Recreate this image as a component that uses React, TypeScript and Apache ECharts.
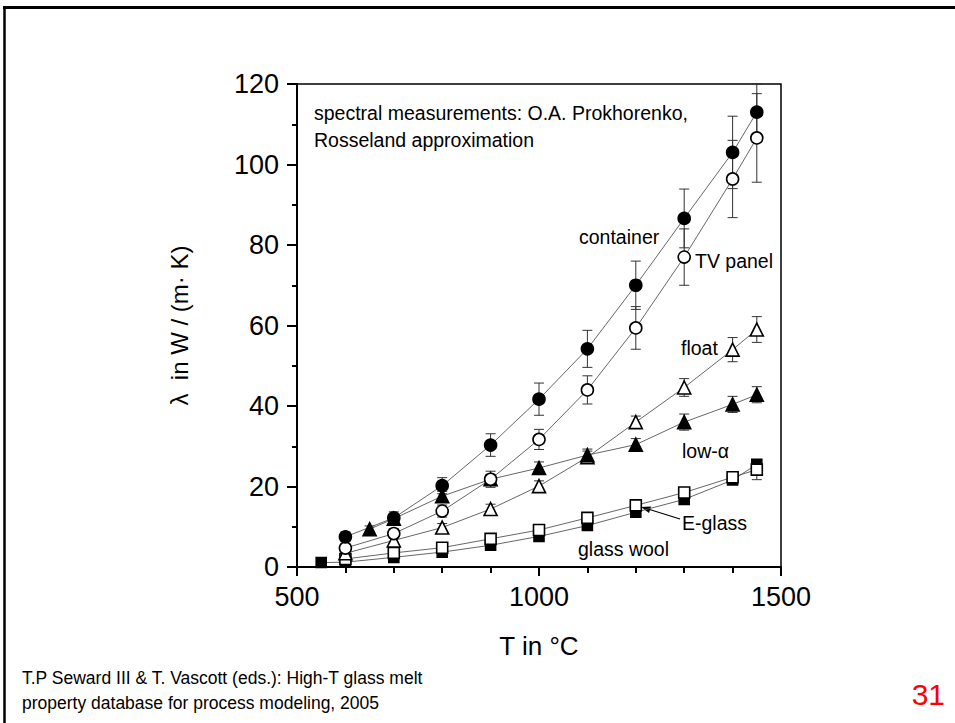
import React, { useEffect, useRef } from "react";
import * as echarts from "echarts";

// ---- data ----
const xTickLabels = [500, 1000, 1500];
const yTickLabels = [0, 20, 40, 60, 80, 100, 120];

const containerT = [600, 700, 800, 900, 1000, 1100, 1200, 1300, 1400, 1450];
const containerV = [7.5, 12.2, 20.2, 30.3, 41.7, 54.2, 70, 86.6, 103, 113];
const containerErr = [1.2, 1.5, 2, 2.8, 4, 4.6, 6, 7.3, 9, 7];

const tvPanelT = [600, 700, 800, 900, 1000, 1100, 1200, 1300, 1400, 1450];
const tvPanelV = [4.7, 8.3, 13.9, 21.8, 31.7, 44, 59.4, 77, 96.4, 106.6];
const tvPanelErr = [1, 1.2, 1.5, 2, 2.5, 3.5, 5.3, 7, 9.6, 11];

const floatT = [600, 700, 800, 900, 1000, 1100, 1200, 1300, 1400, 1450];
const floatV = [3.4, 6.6, 9.8, 14.4, 20.1, 27.3, 36, 44.6, 54, 59];
const floatErr = [0.8, 1, 1, 1.2, 1.3, 1.5, 1.5, 2.2, 3, 3.2];

const lowAlphaT = [650, 700, 800, 900, 1000, 1100, 1200, 1300, 1400, 1450];
const lowAlphaV = [9.4, 12, 17.6, 21.8, 24.6, 27.8, 30.4, 36, 40.4, 42.8];
const lowAlphaErr = [0.8, 1, 1.2, 1.2, 1.5, 1.5, 1.5, 2, 2, 2];

const eGlassT = [600, 700, 800, 900, 1000, 1100, 1200, 1300, 1400, 1450];
const eGlassV = [2, 3.5, 4.8, 7, 9.2, 12.2, 15.3, 18.5, 22.3, 24.2];
const eGlassErr = [0.6, 0.7, 0.8, 0.8, 0.8, 0.8, 1, 1, 1.2, 2.5];

const glassWoolT = [550, 600, 700, 800, 900, 1000, 1100, 1200, 1300, 1400, 1450];
const glassWoolV = [1.1, 1.2, 2.4, 3.7, 5.4, 7.6, 10.3, 13.6, 16.8, 21.6, 25.5];

const SANS = "'Liberation Sans', Arial, sans-serif";

function pairs(t: number[], v: number[]) {
  return t.map((x, i) => [x, v[i]]);
}
function errs(t: number[], v: number[], e: number[]) {
  return t.map((x, i) => [x, v[i] - e[i], v[i] + e[i]]);
}

function lineSeries(name: string, t: number[], v: number[], symbol: string, size: number, fill: string) {
  return {
    name,
    type: "line",
    data: pairs(t, v),
    symbol,
    symbolSize: size,
    showSymbol: true,
    z: 4,
    lineStyle: { color: "#555", width: 0.9 },
    itemStyle: { color: fill, borderColor: "#000", borderWidth: 1.6 },
  };
}

function errSeries(name: string, t: number[], v: number[], e: number[]) {
  return {
    name: name + " err",
    type: "custom",
    z: 2,
    clip: false,
    data: errs(t, v, e),
    encode: { x: 0, y: [1, 2] },
    renderItem: (_p: any, api: any) => {
      const x = api.value(0);
      const p1 = api.coord([x, api.value(1)]);
      const p2 = api.coord([x, api.value(2)]);
      const w = 5;
      const style = { stroke: "#333", lineWidth: 1 };
      return {
        type: "group",
        children: [
          { type: "line", shape: { x1: p1[0], y1: p1[1], x2: p2[0], y2: p2[1] }, style },
          { type: "line", shape: { x1: p1[0] - w, y1: p1[1], x2: p1[0] + w, y2: p1[1] }, style },
          { type: "line", shape: { x1: p2[0] - w, y1: p2[1], x2: p2[0] + w, y2: p2[1] }, style },
        ],
      };
    },
  };
}

function label(text: string, x: number, y: number, size = 19.5) {
  return {
    type: "text",
    x,
    y,
    style: { text, fill: "#000", font: `${size}px ${SANS}`, textVerticalAlign: "middle", textAlign: "left" },
  };
}

export default function App() {
  const ref = useRef<HTMLDivElement>(null);
  useEffect(() => {
    document.body.style.margin = "0";
    const chart = echarts.init(ref.current!, null, { renderer: "svg" });
    const option: any = {
      animation: false,
      backgroundColor: "#fff",
      grid: {
        left: 297,
        right: 174,
        top: 84,
        bottom: 156,
        show: true,
        borderColor: "#000",
        borderWidth: 1.5,
        backgroundColor: "transparent",
      },
      xAxis: {
        type: "value",
        min: 500,
        max: 1500,
        interval: 500,
        name: "T in °C",
        nameLocation: "middle",
        nameGap: 66,
        nameTextStyle: { color: "#000", fontSize: 26, fontFamily: SANS },
        axisLine: { onZero: false, lineStyle: { color: "#000", width: 2 } },
        axisTick: { show: true, inside: false, length: 9, lineStyle: { color: "#000", width: 2 } },
        minorTick: { show: true, splitNumber: 5, length: 6, lineStyle: { color: "#000", width: 2 } },
        splitLine: { show: false },
        axisLabel: {
          color: "#000",
          fontSize: 27,
          fontFamily: SANS,
          margin: 16,
          formatter: (v: number) => (xTickLabels.includes(v) ? String(v) : ""),
        },
      },
      yAxis: {
        type: "value",
        min: 0,
        max: 120,
        interval: 20,
        name: "λ  in W / (m· K)",
        nameLocation: "middle",
        nameGap: 106,
        nameTextStyle: { color: "#000", fontSize: 24, fontFamily: SANS },
        axisLine: { onZero: false, lineStyle: { color: "#000", width: 2 } },
        axisTick: { show: true, inside: false, length: 10, lineStyle: { color: "#000", width: 2 } },
        minorTick: { show: true, splitNumber: 2, length: 5, lineStyle: { color: "#000", width: 2 } },
        splitLine: { show: false },
        axisLabel: {
          color: "#000",
          fontSize: 27,
          fontFamily: SANS,
          margin: 18,
          formatter: (v: number) => (yTickLabels.includes(v) ? String(v) : ""),
        },
      },
      series: [
        errSeries("container", containerT, containerV, containerErr),
        errSeries("TV panel", tvPanelT, tvPanelV, tvPanelErr),
        errSeries("float", floatT, floatV, floatErr),
        errSeries("low-α", lowAlphaT, lowAlphaV, lowAlphaErr),
        errSeries("E-glass", eGlassT, eGlassV, eGlassErr),
        lineSeries("glass wool", glassWoolT, glassWoolV, "rect", 10, "#000"),
        lineSeries("E-glass", eGlassT, eGlassV, "rect", 11, "#fff"),
        lineSeries("float", floatT, floatV, "triangle", 13, "#fff"),
        lineSeries("low-α", lowAlphaT, lowAlphaV, "triangle", 13, "#000"),
        lineSeries("TV panel", tvPanelT, tvPanelV, "circle", 12, "#fff"),
        lineSeries("container", containerT, containerV, "circle", 12, "#000"),
      ],
      graphic: [
        // slide frame
        { type: "line", shape: { x1: 3, y1: 7.5, x2: 955, y2: 7.5 }, style: { stroke: "#000", lineWidth: 3 } },
        { type: "line", shape: { x1: 4.5, y1: 6, x2: 4.5, y2: 723 }, style: { stroke: "#000", lineWidth: 2.5 } },
        label("spectral measurements: O.A. Prokhorenko,", 314, 113),
        label("Rosseland approximation", 314, 140),
        label("container", 579, 237),
        label("TV panel", 695, 261),
        label("float", 681, 348),
        label("low-α", 682, 451),
        label("E-glass", 682, 523),
        label("glass wool", 578, 549),
        { type: "line", shape: { x1: 680, y1: 519, x2: 648, y2: 509 }, style: { stroke: "#000", lineWidth: 1.2 } },
        { type: "polygon", shape: { points: [[641, 507], [651, 506.5], [649, 513]] }, style: { fill: "#000" } },
        {
          type: "text",
          x: 22,
          y: 678,
          style: { text: "T.P Seward III & T. Vascott (eds.): High-T glass melt", fill: "#000", font: `17.5px ${SANS}`, textVerticalAlign: "middle" },
        },
        {
          type: "text",
          x: 22,
          y: 703,
          style: { text: "property database for process modeling, 2005", fill: "#000", font: `17.5px ${SANS}`, textVerticalAlign: "middle" },
        },
        {
          type: "text",
          x: 945,
          y: 694,
          style: { text: "31", fill: "#ff0000", font: `30px ${SANS}`, textAlign: "right", textVerticalAlign: "middle" },
        },
      ],
    };
    chart.setOption(option);
    return () => chart.dispose();
  }, []);
  return (
    <div
      ref={ref}
      style={{ position: "absolute", left: 0, top: 0, width: 955, height: 723, background: "#fff" }}
    />
  );
}
